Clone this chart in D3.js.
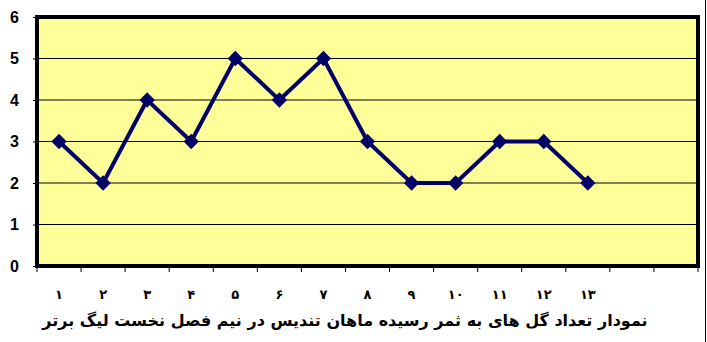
<!DOCTYPE html>
<html>
<head>
<meta charset="utf-8">
<script src="https://cdn.jsdelivr.net/npm/d3@7"></script>
<style>
  body { margin: 0; background: #fff; }
  svg { display: block; }
</style>
</head>
<body>
<div id="chart"></div>
<script>
// داده ها
const categories = ["۱", "۲", "۳", "۴", "۵", "۶", "۷", "۸", "۹", "۱۰", "۱۱", "۱۲", "۱۳", "", ""];
const goals = [3, 2, 4, 3, 5, 4, 5, 3, 2, 2, 3, 3, 2, null, null];
const yTicks = [0, 1, 2, 3, 4, 5, 6];
const title = "نمودار تعداد گل های به ثمر رسیده ماهان تندیس در نیم فصل نخست لیگ برتر";

const width = 707, height = 342;
const margin = { top: 17, right: 9, bottom: 76, left: 37 };

const svg = d3.select('#chart').append('svg')
    .attr('width', width)
    .attr('height', height);

const x = d3.scaleBand()
    .domain(d3.range(categories.length))
    .range([margin.left, width - margin.right]);

const y = d3.scaleLinear()
    .domain([0, 6])
    .range([height - margin.bottom, margin.top]);

// پس زمینه زرد
svg.append('rect')
    .attr('x', margin.left)
    .attr('y', margin.top)
    .attr('width', width - margin.left - margin.right)
    .attr('height', height - margin.top - margin.bottom)
    .attr('fill', '#ffff99');

// خطوط شبکه
svg.append('g')
    .selectAll('line')
    .data(yTicks.slice(1))
    .enter()
    .append('line')
    .attr('x1', margin.left)
    .attr('x2', width - margin.right)
    .attr('y1', d => y(d))
    .attr('y2', d => y(d))
    .attr('stroke', '#000')
    .attr('stroke-width', 1);

// محور عمودی
const yAxis = svg.append('g')
    .attr('transform', `translate(${margin.left},0)`)
    .call(d3.axisLeft(y).tickValues(yTicks).tickFormat(d3.format('d')).tickSize(4).tickPadding(14));
yAxis.select('.domain').remove();
yAxis.selectAll('text')
    .attr('font-family', 'Liberation Sans, Arial, sans-serif')
    .attr('font-weight', 'bold')
    .attr('font-size', 16)
    .attr('fill', '#000');

// محور افقی
const xAxis = svg.append('g')
    .attr('transform', `translate(0,${height - margin.bottom})`)
    .call(d3.axisBottom(x).tickFormat(i => categories[i]).tickSize(0).tickPadding(24));
xAxis.select('.domain').remove();
xAxis.selectAll('text')
    .attr('font-family', 'DejaVu Sans, sans-serif')
    .attr('font-weight', 'bold')
    .attr('font-size', 13)
    .attr('fill', '#000');

// تیک های بین دسته ها
svg.append('g')
    .selectAll('line')
    .data(d3.range(categories.length + 1))
    .enter()
    .append('line')
    .attr('x1', i => margin.left + i * x.step())
    .attr('x2', i => margin.left + i * x.step())
    .attr('y1', height - margin.bottom)
    .attr('y2', height - margin.bottom + 6)
    .attr('stroke', '#000')
    .attr('stroke-width', 1);

// کادر ناحیه رسم
svg.append('rect')
    .attr('x', margin.left)
    .attr('y', margin.top)
    .attr('width', width - margin.left - margin.right)
    .attr('height', height - margin.top - margin.bottom)
    .attr('fill', 'none')
    .attr('stroke', '#000')
    .attr('stroke-width', 4);

// خط داده ها
const line = d3.line()
    .defined(d => d != null)
    .x((d, i) => x(i) + x.bandwidth() / 2)
    .y(d => y(d));

svg.append('path')
    .datum(goals)
    .attr('d', line)
    .attr('fill', 'none')
    .attr('stroke', '#000066')
    .attr('stroke-width', 4)
    .attr('stroke-linejoin', 'miter');

svg.append('g')
    .selectAll('path')
    .data(goals.map((v, i) => ({ v, i })).filter(d => d.v != null))
    .enter()
    .append('path')
    .attr('d', d3.symbol().type(d3.symbolDiamond2).size(150))
    .attr('transform', d => `translate(${x(d.i) + x.bandwidth() / 2},${y(d.v)})`)
    .attr('fill', '#000066');

// عنوان
svg.append('text')
    .attr('x', 345)
    .attr('y', 326)
    .attr('text-anchor', 'middle')
    .attr('direction', 'rtl')
    .attr('font-family', 'DejaVu Sans, sans-serif')
    .attr('font-weight', 'bold')
    .attr('font-size', 16)
    .attr('fill', '#000')
    .text(title);

// خط کناری تصویر
svg.append('line')
    .attr('x1', 705.5)
    .attr('x2', 705.5)
    .attr('y1', 0)
    .attr('y2', height)
    .attr('stroke', '#000')
    .attr('stroke-width', 1);
</script>
</body>
</html>
